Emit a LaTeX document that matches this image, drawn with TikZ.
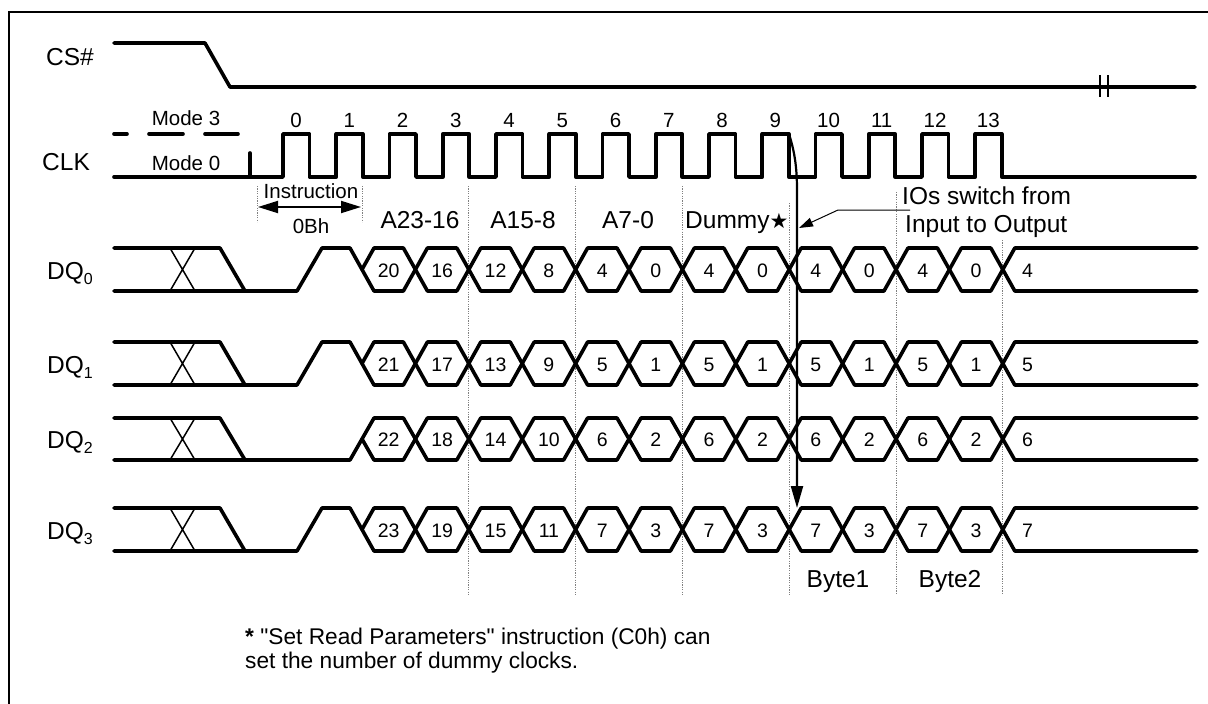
\documentclass[tikz,border=0pt]{standalone}
\usepackage{fontspec}
\setmainfont{Liberation Sans}
\newfontfamily\symfont{DejaVu Sans}
\newfontfamily\footfont{Liberation Sans}[Ligatures=TeXOff]
\usetikzlibrary{arrows.meta}
\newcommand{\fs}[1]{\fontsize{#1}{#1}\selectfont}
\begin{document}
\begin{tikzpicture}[x=1pt,y=-1pt,
  sig/.style={line width=3.6pt,line cap=round,line join=round},
  thinl/.style={line width=1.5pt},
  sepl/.style={line width=0.9pt,gray,dash pattern=on 1.2pt off 1.2pt},
  big/.style={inner sep=0pt,font=\fs{24.5}},
  mid/.style={inner sep=0pt,font=\fs{20.5}},
  num/.style={inner sep=0pt,font=\fs{19.5}},
  foot/.style={inner sep=0pt,font=\footfont\fs{22.7}},
]
\useasboundingbox (0,0) rectangle (1208,704);
\fill[white] (0,0) rectangle (1208,704);
\draw[line width=1.2pt] (9,704) -- (9,12) -- (1208,12);

% CS#
\node[big,anchor=base west] (cslab) at (46,65) {CS\#};
\draw[sig] (114,43) -- (205,43) -- (230,87) -- (1195,87);
\draw[thinl] (1100,75) -- (1100,97) (1108,75) -- (1108,97);

% CLK
\node[big,anchor=base west] (clklab) at (42,170) {CLK};
\node[mid,anchor=base] (m3) at (186,125) {Mode 3};
\node[mid,anchor=base] (m0) at (186,170) {Mode 0};
\draw[sig] (114,134)--(127,134) (149,134)--(183,134) (205,134)--(238,134);
\draw[sig] (250,153) -- (250,177);
\draw[sig] (114,177) foreach \k in {0,...,13}{ -- ({283+53.25*\k},177) -- ({283+53.25*\k},134) -- ({309.5+53.25*\k},134) -- ({309.5+53.25*\k},177)} -- (1195,177);
\foreach \k in {0,...,13} \node[mid,anchor=base] (cn\k) at ({296+53.25*\k},127) {\k};

% Instruction
\draw[sepl] (257,186)--(257,222) (362,186)--(362,222);
\coordinate (insL) at (258,207);
\coordinate (insR) at (361,207);
\draw[line width=1.8pt,{Triangle[length=20pt,width=12pt]}-{Triangle[length=20pt,width=12pt]}] (insL) -- (insR);
\node[mid,anchor=base] (instr) at (311,198) {Instruction};
\node[mid,anchor=base] (obh) at (311,233) {0Bh};

% separators
\foreach \j/\t in {2/186,4/186,6/186,8/203,10/192,12/240}
  \draw[sepl] ({362+53.4*\j},\t) -- ({362+53.4*\j},595);

% section labels
\node[big,anchor=base] (s1) at (420,228) {A23-16};
\node[big,anchor=base] (s2) at (523,228) {A15-8};
\node[big,anchor=base] (s3) at (628,228) {A7-0};
\node[big,anchor=base west] (s4) at (685,228) {Dummy{\symfont\fs{21}★}};

% DQ rows
\foreach \r/\U/\L in {0/248/291,1/342/385,2/418/460,3/508/551}{
  \pgfmathsetmacro\M{(\U+\L)/2}
  \node[big,anchor=base west] (dq\r) at (47,\M+9.5) {DQ\raisebox{-0.22em}{\fs{16}\r}};
  \draw[sig] (114,\U) -- (220,\U) -- (245,\L);
  \draw[thinl] (170,\L) -- (195,\U) (170,\U) -- (195,\L);
  \ifnum\r=2
    \draw[sig] (114,\L) -- (350,\L) -- (374,\U)
      foreach \j in {1,3,5,7,9,11}{ -- ({350+53.4*\j},\U) -- ({374+53.4*\j},\L) -- ({403.4+53.4*\j},\L) -- ({427.4+53.4*\j},\U)} -- (1197,\U);
    \draw[sig] (362,\M) -- (374,\L)
      foreach \j in {1,3,5,7,9,11}{ -- ({350+53.4*\j},\L) -- ({374+53.4*\j},\U) -- ({403.4+53.4*\j},\U) -- ({427.4+53.4*\j},\L)} -- (1197,\L);
  \else
    \draw[sig] (362,\M) -- (374,\U)
      foreach \j in {1,3,5,7,9,11}{ -- ({350+53.4*\j},\U) -- ({374+53.4*\j},\L) -- ({403.4+53.4*\j},\L) -- ({427.4+53.4*\j},\U)} -- (1197,\U);
    \draw[sig] (114,\L) -- (297,\L) -- (322,\U) -- (350,\U) -- (374,\L)
      foreach \j in {1,3,5,7,9,11}{ -- ({350+53.4*\j},\L) -- ({374+53.4*\j},\U) -- ({403.4+53.4*\j},\U) -- ({427.4+53.4*\j},\L)} -- (1197,\L);
  \fi
  \foreach \j/\b in {0/20,1/16,2/12,3/8,4/4,5/0,6/4,7/0,8/4,9/0,10/4,11/0}{
    \pgfmathtruncatemacro\v{\b+\r}
    \node[num] (h\r-\j) at ({388.7+53.4*\j},\M+1) {\v};
  }
  \pgfmathtruncatemacro\v{4+\r}
  \node[num,anchor=west] (h\r-f) at (1022,\M+1) {\v};
}

% arrows
\coordinate (c9f) at (789,134);
\coordinate (dq3in) at (797,508);
\draw[line width=2.2pt,-{Triangle[length=22pt,width=12pt]}] (c9f) .. controls (794,150) and (797,165) .. (797,190) -- (dq3in);

\node[big,anchor=base west] (ios1) at (902,204) {IOs switch from};
\node[big,anchor=base west] (ios2) at (905,232) {Input to Output};
\coordinate (iosA) at (910,210);
\coordinate (iosB) at (838,210);
\coordinate (iostip) at (799,228);
\draw[line width=1pt,-{Triangle[length=14pt,width=9pt]}] (iosA) -- (iosB) -- (iostip);

% bytes
\node[big,anchor=base] (b1) at (838,587) {Byte1};
\node[big,anchor=base] (b2) at (950,587) {Byte2};

% footnote
\node[foot,anchor=base west] (fn1) at (245,644) {\textbf{*} "Set Read Parameters" instruction (C0h) can};
\node[foot,anchor=base west] (fn2) at (245,668) {set the number of dummy clocks.};
\end{tikzpicture}
\end{document}
